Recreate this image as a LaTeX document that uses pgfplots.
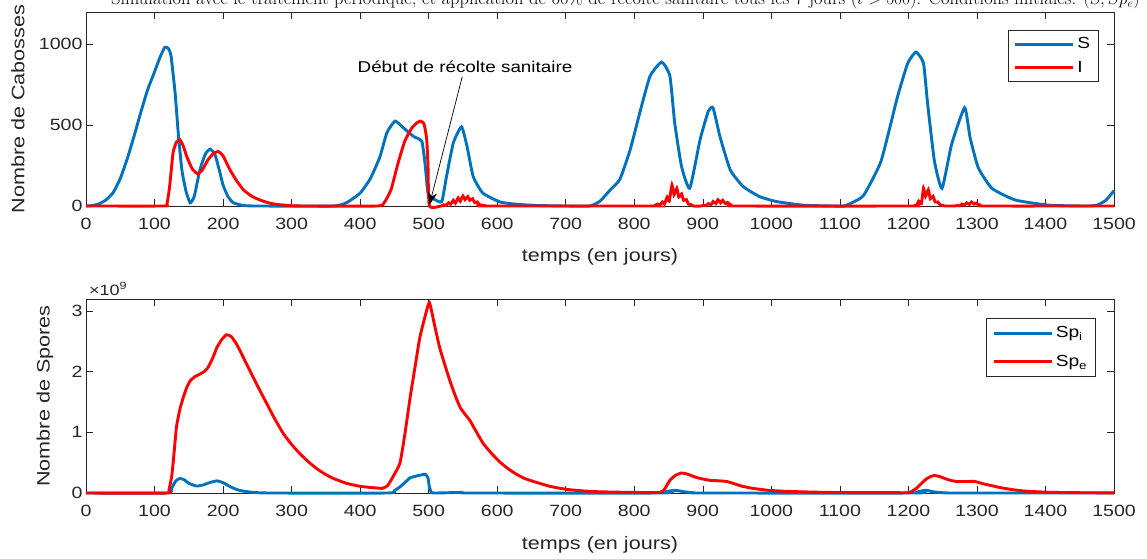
\documentclass[border=0pt]{standalone}
\usepackage{fontspec}
\usepackage{pgfplots}
\pgfplotsset{compat=1.18}
\usetikzlibrary{arrows.meta}
\newfontfamily\hv{Liberation Sans}[FakeStretch=1.2]
\definecolor{mblue}{rgb}{0,0.447,0.741}
\definecolor{mred}{rgb}{1,0,0}
\definecolor{axgray}{rgb}{0.15,0.15,0.15}
\pgfplotsset{
 myaxis/.style={
  scale only axis, width=1028pt, height=194pt,
  xmin=0, xmax=1500, xtick={0,100,...,1500},
  tick align=inside, tick pos=both, major tick length=7pt,
  axis line style={axgray, line width=0.6pt},
  every tick/.style={axgray, line width=0.6pt},
  tick label style={font=\hv\fontsize{16.3}{18}\selectfont, text=axgray},
  /pgf/number format/assume math mode=true,
  /pgf/number format/set thousands separator={},
  xticklabel style={yshift=-9pt},
  label style={font=\hv\fontsize{18}{20}\selectfont, text=axgray},
  legend cell align=left,
  legend image code/.code={\draw[#1] (0pt,0pt) -- (58pt,0pt);},
 },
 pl/.style={line width=2.9pt, smooth, tension=0.3},
}
\begin{document}
\begin{tikzpicture}
\useasboundingbox (-86pt,-65pt) rectangle (1061pt,493pt);
\node[anchor=base east, font=\fontsize{18.5}{20}\selectfont, inner sep=0pt] at (1054pt,488pt) {Simulation avec le traitement p\'eriodique, et application de 60\% de r\'ecolte sanitaire tous les 7 jours ($t>500$). Conditions initiales: $(S,Sp_e)$};
% ---------------- top axis
\begin{axis}[myaxis, at={(0pt,287pt)}, anchor=south west,
  ymin=0, ymax=1200, ytick={0,500,1000},
  xlabel={temps (en jours)}, ylabel={Nombre de Cabosses},
  xlabel style={at={(axis description cs:0.5,-0.263)}, anchor=center},
  ylabel style={at={(axis description cs:-0.0661,0.5)}, anchor=center},
  legend style={at={(axis description cs:1,1)}, anchor=north east, xshift=-15pt, yshift=-18pt,
    font=\hv\fontsize{16}{18}\selectfont, draw=axgray, line width=0.6pt, inner xsep=6pt, inner ysep=5pt,
    nodes={inner sep=2.5pt}, row sep=6pt},
  clip=false]
\addplot[mblue, pl] coordinates {(0,0) (10,3) (20,15) (30,40) (40,85) (50,170) (60,290) (70,430) (80,580) (90,720) (100,830) (108,920) (115,982) (120,975) (124,930) (130,700) (135,430) (140,220) (146,90) (152,20) (158,60) (166,220) (174,320) (181,352) (188,320) (194,230) (200,130) (207,60) (215,20) (230,3) (250,0) (360,0) (380,20) (400,80) (415,170) (429,306) (439,453) (451,525) (463,484) (478,430) (490,400) (495,250) (499,80) (507,45) (519,27) (526,182) (536,391) (548,490) (556,368) (565,182) (579,80) (604,25) (630,10) (660,3) (700,0) (735,0) (750,30) (765,100) (779,165) (794,348) (808,576) (823,803) (840,890) (852,803) (859,514) (869,244) (881,110) (896,410) (908,586) (915,607) (925,430) (940,224) (959,120) (983,58) (1008,27) (1047,5) (1090,0) (1106,0) (1120,25) (1135,68) (1160,277) (1184,674) (1199,883) (1211,952) (1222,883) (1228,634) (1238,277) (1249,109) (1263,381) (1282,608) (1290,423) (1302,236) (1322,109) (1356,37) (1405,5) (1460,0) (1475,5) (1488,35) (1500,95)};
\addlegendentry{S}
\addplot[mred, pl] coordinates {(0,0) (113,0) (118,10) (122,120) (127,329) (132,395) (137,410) (142,370) (147,306) (155,230) (163,199) (170,225) (178,286) (186,325) (193,337) (200,310) (210,224) (220,155) (230,99) (242,60) (254,37) (266,20) (278,10) (300,2) (320,0) (425,0) (435,20) (445,100) (455,260) (465,400) (475,480) (483,515) (488,525) (493,510) (497,420) (499,250) (501,0) (518,0) (522,8) (525,3) (529,20) (532,10) (536,35) (539,18) (543,50) (546,30) (550,62) (553,40) (557,58) (560,35) (564,45) (567,22) (571,25) (574,8) (578,5) (582,0) (828,0) (830,3) (834,12) (837,5) (841,25) (844,12) (848,55) (851,30) (855,130) (858,70) (862,110) (865,55) (869,75) (872,35) (876,40) (879,12) (883,8) (886,0) (898,0) (901,5) (905,2) (908,15) (912,8) (915,28) (919,15) (922,38) (926,20) (929,35) (933,15) (936,22) (940,8) (943,8) (947,0) (1205,0) (1208,5) (1212,2) (1215,30) (1219,15) (1222,110) (1225,60) (1229,100) (1232,45) (1236,60) (1239,25) (1243,25) (1246,8) (1250,4) (1253,0) (1268,0) (1271,3) (1275,1) (1278,12) (1282,5) (1285,20) (1289,10) (1292,25) (1296,12) (1299,18) (1303,6) (1306,8) (1310,0) (1500,0)};
\addlegendentry{I}
\node[font=\hv\fontsize{15.7}{18}\selectfont, text=black] at (axis cs:553,863) {Début de récolte sanitaire};
\draw[-{Stealth[length=13pt,width=9pt]}, line width=0.7pt, black] (axis cs:549,800) -- (axis cs:501,5);
\end{axis}
% ---------------- bottom axis
\begin{axis}[myaxis, at={(0pt,0pt)}, anchor=south west,
  ymin=0, ymax=3.2, ytick={0,1,2,3},
  xlabel={temps (en jours)}, ylabel={Nombre de Spores},
  xlabel style={at={(axis description cs:0.5,-0.268)}, anchor=center},
  ylabel style={at={(axis description cs:-0.0399,0.5)}, anchor=center},
  legend style={at={(axis description cs:1,1)}, anchor=north east, xshift=-18pt, yshift=-19pt,
    font=\hv\fontsize{16}{18}\selectfont, draw=axgray, line width=0.6pt, inner xsep=6pt, inner ysep=6pt,
    nodes={inner sep=2.5pt}, row sep=11pt},
  clip=false]
\addplot[mblue, pl] coordinates {(0,0) (118,0) (125,0.08) (131,0.2) (137,0.24) (143,0.22) (150,0.16) (161,0.115) (170,0.13) (180,0.17) (191,0.20) (200,0.17) (208,0.12) (215,0.08) (225,0.04) (244,0.01) (270,0) (440,0) (450,0.04) (458,0.10) (466,0.18) (473,0.25) (482,0.28) (490,0.30) (495,0.31) (499,0.25) (501,0.1) (504,0.01) (510,0) (548,0.01) (560,0) (840,0) (850,0.03) (860,0.045) (870,0.025) (885,0.005) (900,0) (1210,0) (1218,0.03) (1226,0.045) (1236,0.02) (1250,0.005) (1270,0) (1500,0)};
\addlegendentry{Sp\textsubscript{i}}
\addplot[mred, pl] coordinates {(0,0) (118,0) (121,0.05) (125,0.27) (128,0.6) (132,1.09) (137,1.38) (142,1.58) (147,1.74) (152,1.85) (159,1.92) (166,1.96) (172,2.0) (178,2.07) (185,2.23) (191,2.40) (198,2.53) (205,2.61) (212,2.58) (220,2.45) (229,2.25) (239,2.02) (251,1.75) (264,1.47) (276,1.21) (288,0.98) (300,0.80) (312,0.65) (325,0.51) (337,0.40) (349,0.31) (361,0.24) (380,0.16) (400,0.11) (417,0.09) (432,0.077) (440,0.12) (448,0.27) (458,0.49) (465,0.95) (473,1.58) (480,2.07) (487,2.56) (494,2.88) (501,3.14) (508,2.80) (516,2.40) (524,2.10) (531,1.85) (539,1.60) (546,1.41) (553,1.30) (560,1.20) (570,1.00) (580,0.81) (592,0.65) (604,0.51) (616,0.40) (628,0.31) (640,0.24) (653,0.19) (677,0.11) (701,0.06) (725,0.035) (750,0.02) (800,0.01) (838,0.01) (845,0.08) (852,0.21) (860,0.29) (869,0.33) (878,0.31) (887,0.27) (896,0.24) (910,0.21) (925,0.20) (935,0.19) (944,0.16) (958,0.11) (973,0.077) (995,0.045) (1017,0.03) (1060,0.015) (1100,0.008) (1195,0.005) (1202,0.01) (1212,0.08) (1220,0.17) (1226,0.23) (1232,0.27) (1238,0.29) (1246,0.27) (1258,0.22) (1270,0.19) (1285,0.19) (1297,0.19) (1310,0.15) (1322,0.12) (1334,0.09) (1352,0.055) (1372,0.03) (1406,0.012) (1450,0.005) (1500,0.002)};
\addlegendentry{Sp\textsubscript{e}}
\node[anchor=base west, font=\hv\fontsize{15}{17}\selectfont, text=axgray, inner sep=0pt] at ([xshift=3pt,yshift=4pt]axis description cs:0,1) {×10\textsuperscript{9}};
\end{axis}
\end{tikzpicture}
\end{document}
